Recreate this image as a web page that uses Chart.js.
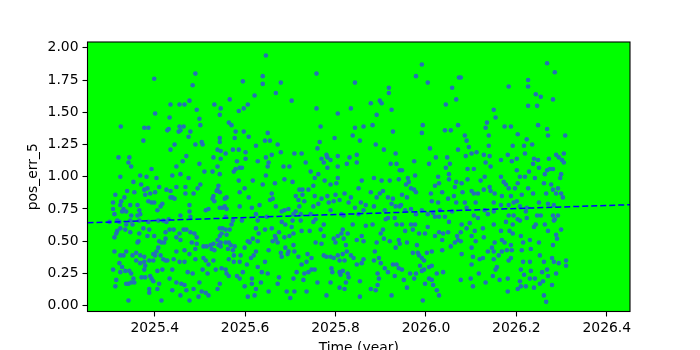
<!DOCTYPE html>
<html>
<head>
<meta charset="utf-8">
<script src="https://cdn.jsdelivr.net/npm/chart.js@4.4.1/dist/chart.umd.min.js"></script>
<style>
  html, body { margin: 0; padding: 0; background: #fff; }
</style>
</head>
<body>
<canvas id="pos-err-chart" width="700" height="350"></canvas>
<script>
// [time (year), pos_err_5]
const observations = [
  [2025.399,1.76],[2025.401,1.49],[2025.325,1.39],[2025.377,1.38],[2025.386,1.38],[2025.375,1.28],[2025.320,1.15],[2025.344,1.15],[2025.342,1.11],[2025.348,1.08],[2025.393,1.06],[2025.324,1.00],[2025.368,1.01],[2025.382,1.00],[2025.404,0.99],[2025.353,0.96],[2025.370,0.94],[2025.377,0.90],[2025.384,0.91],[2025.339,0.89],[2025.410,0.92],[2025.355,0.88],[2025.313,0.86],[2025.401,0.88],[2025.379,0.86],[2025.390,0.87],[2025.333,0.84],[2025.386,0.81],[2025.393,0.80],[2025.399,0.80],[2025.417,0.79],[2025.413,0.77],[2025.308,0.80],[2025.326,0.81],[2025.324,0.78],[2025.346,0.78],[2025.362,0.78],[2025.331,0.75],[2025.308,0.75],[2025.328,0.73],[2025.366,0.74],[2025.337,0.73],[2025.406,0.74],[2025.362,0.70],[2025.368,0.71],[2025.348,0.70],[2025.311,0.71],[2025.317,0.66],[2025.346,0.66],[2025.366,0.66],[2025.386,0.65],[2025.408,0.66],[2025.419,0.66],[2025.300,0.65],[2025.322,0.65],[2025.337,0.63],[2025.351,0.63],[2025.375,0.60],[2025.324,0.60],[2025.335,0.59],[2025.317,0.58],[2025.315,0.56],[2025.311,0.53],[2025.346,0.57],[2025.366,0.56],[2025.384,0.54],[2025.399,0.54],[2025.388,0.59],[2025.410,0.50],[2025.415,0.49],[2025.364,0.50],[2025.362,0.49],[2025.421,0.49],[2025.311,0.42],[2025.324,0.39],[2025.331,0.39],[2025.337,0.42],[2025.351,0.39],[2025.359,0.41],[2025.368,0.39],[2025.408,0.45],[2025.404,0.42],[2025.397,0.40],[2025.401,0.39],[2025.413,0.39],[2025.419,0.36],[2025.377,0.38],[2025.359,0.35],[2025.368,0.33],[2025.377,0.34],[2025.388,0.35],[2025.397,0.35],[2025.379,0.31],[2025.322,0.33],[2025.328,0.30],[2025.308,0.28],[2025.324,0.26],[2025.335,0.27],[2025.344,0.27],[2025.348,0.25],[2025.377,0.28],[2025.406,0.27],[2025.417,0.28],[2025.371,0.22],[2025.379,0.22],[2025.390,0.23],[2025.393,0.21],[2025.397,0.19],[2025.353,0.21],[2025.348,0.18],[2025.342,0.17],[2025.337,0.17],[2025.315,0.20],[2025.313,0.15],[2025.355,0.18],[2025.410,0.17],[2025.388,0.13],[2025.388,0.10],[2025.406,0.13],[2025.342,0.04],[2025.415,0.04],
  [2025.490,1.80],[2025.484,1.71],[2025.435,1.56],[2025.455,1.56],[2025.466,1.56],[2025.477,1.59],[2025.493,1.52],[2025.532,1.56],[2025.546,1.53],[2025.544,1.48],[2025.433,1.46],[2025.499,1.45],[2025.455,1.39],[2025.464,1.39],[2025.428,1.36],[2025.431,1.37],[2025.453,1.35],[2025.457,1.36],[2025.479,1.35],[2025.501,1.40],[2025.475,1.31],[2025.544,1.30],[2025.504,1.27],[2025.506,1.25],[2025.490,1.25],[2025.444,1.25],[2025.435,1.21],[2025.539,1.21],[2025.546,1.20],[2025.544,1.27],[2025.470,1.16],[2025.462,1.12],[2025.530,1.15],[2025.546,1.14],[2025.499,1.10],[2025.448,1.08],[2025.539,1.08],[2025.510,1.04],[2025.528,1.04],[2025.457,1.02],[2025.439,1.01],[2025.475,0.99],[2025.544,1.02],[2025.495,0.91],[2025.501,0.94],[2025.448,0.92],[2025.468,0.92],[2025.541,0.93],[2025.539,0.90],[2025.537,0.89],[2025.544,0.88],[2025.426,0.90],[2025.435,0.89],[2025.468,0.87],[2025.486,0.87],[2025.439,0.84],[2025.435,0.84],[2025.444,0.83],[2025.530,0.85],[2025.528,0.83],[2025.532,0.81],[2025.477,0.78],[2025.519,0.75],[2025.513,0.74],[2025.544,0.76],[2025.550,0.76],[2025.457,0.70],[2025.477,0.73],[2025.479,0.69],[2025.431,0.67],[2025.426,0.65],[2025.433,0.59],[2025.442,0.59],[2025.424,0.57],[2025.448,0.53],[2025.457,0.51],[2025.455,0.56],[2025.464,0.59],[2025.470,0.59],[2025.479,0.57],[2025.488,0.56],[2025.493,0.53],[2025.493,0.48],[2025.482,0.49],[2025.466,0.43],[2025.448,0.42],[2025.477,0.40],[2025.490,0.44],[2025.508,0.46],[2025.515,0.46],[2025.524,0.47],[2025.526,0.44],[2025.530,0.48],[2025.532,0.43],[2025.541,0.47],[2025.546,0.49],[2025.546,0.46],[2025.539,0.51],[2025.544,0.54],[2025.548,0.56],[2025.550,0.60],[2025.544,0.60],[2025.424,0.52],[2025.424,0.35],[2025.428,0.35],[2025.442,0.36],[2025.455,0.34],[2025.466,0.34],[2025.490,0.36],[2025.508,0.37],[2025.513,0.35],[2025.530,0.35],[2025.519,0.32],[2025.439,0.28],[2025.473,0.26],[2025.484,0.25],[2025.506,0.28],[2025.517,0.25],[2025.535,0.28],[2025.548,0.29],[2025.433,0.21],[2025.448,0.18],[2025.459,0.17],[2025.466,0.16],[2025.499,0.18],[2025.544,0.17],[2025.439,0.12],[2025.470,0.12],[2025.486,0.13],[2025.504,0.11],[2025.513,0.10],[2025.519,0.08],[2025.457,0.08],[2025.477,0.04],[2025.497,0.07],[2025.539,0.13],
  [2025.646,1.94],[2025.639,1.78],[2025.639,1.72],[2025.595,1.74],[2025.679,1.73],[2025.668,1.65],[2025.621,1.63],[2025.566,1.60],[2025.606,1.56],[2025.597,1.53],[2025.586,1.51],[2025.564,1.42],[2025.570,1.40],[2025.579,1.35],[2025.597,1.35],[2025.650,1.34],[2025.577,1.30],[2025.608,1.31],[2025.644,1.28],[2025.655,1.28],[2025.624,1.24],[2025.672,1.25],[2025.557,1.18],[2025.573,1.21],[2025.586,1.21],[2025.601,1.19],[2025.679,1.19],[2025.659,1.17],[2025.646,1.15],[2025.582,1.12],[2025.601,1.14],[2025.628,1.12],[2025.652,1.11],[2025.650,1.08],[2025.588,1.07],[2025.579,1.06],[2025.575,1.04],[2025.593,1.07],[2025.646,1.01],[2025.617,0.97],[2025.586,0.97],[2025.639,0.94],[2025.599,0.91],[2025.666,0.95],[2025.588,0.88],[2025.559,0.84],[2025.555,0.83],[2025.659,0.87],[2025.608,0.84],[2025.655,0.82],[2025.661,0.83],[2025.668,0.77],[2025.681,0.73],[2025.555,0.77],[2025.559,0.75],[2025.588,0.77],[2025.615,0.76],[2025.632,0.78],[2025.624,0.71],[2025.557,0.69],[2025.573,0.66],[2025.593,0.66],[2025.628,0.66],[2025.648,0.69],[2025.681,0.65],[2025.570,0.63],[2025.566,0.59],[2025.557,0.59],[2025.659,0.60],[2025.624,0.60],[2025.644,0.59],[2025.630,0.56],[2025.675,0.57],[2025.559,0.55],[2025.557,0.49],[2025.564,0.49],[2025.568,0.47],[2025.562,0.44],[2025.577,0.46],[2025.573,0.43],[2025.599,0.45],[2025.606,0.50],[2025.610,0.49],[2025.617,0.52],[2025.628,0.50],[2025.661,0.50],[2025.668,0.52],[2025.666,0.54],[2025.672,0.49],[2025.679,0.41],[2025.681,0.38],[2025.652,0.43],[2025.624,0.42],[2025.613,0.37],[2025.564,0.36],[2025.575,0.39],[2025.590,0.39],[2025.575,0.34],[2025.588,0.34],[2025.604,0.32],[2025.619,0.39],[2025.644,0.34],[2025.557,0.28],[2025.559,0.25],[2025.564,0.23],[2025.582,0.23],[2025.588,0.21],[2025.595,0.26],[2025.628,0.30],[2025.637,0.26],[2025.650,0.25],[2025.675,0.22],[2025.672,0.17],[2025.615,0.21],[2025.615,0.17],[2025.635,0.18],[2025.599,0.15],[2025.624,0.13],[2025.652,0.11],[2025.606,0.07],[2025.621,0.08],
  [2025.758,1.80],[2025.703,1.59],[2025.758,1.53],[2025.805,1.49],[2025.767,1.39],[2025.798,1.30],[2025.765,1.27],[2025.760,1.22],[2025.709,1.18],[2025.725,1.18],[2025.805,1.16],[2025.780,1.17],[2025.782,1.15],[2025.769,1.14],[2025.734,1.11],[2025.774,1.11],[2025.789,1.13],[2025.685,1.08],[2025.698,1.08],[2025.782,1.07],[2025.805,1.08],[2025.745,1.04],[2025.762,1.02],[2025.754,0.99],[2025.687,0.98],[2025.705,0.96],[2025.805,0.99],[2025.802,0.95],[2025.789,0.94],[2025.776,0.97],[2025.751,0.93],[2025.727,0.90],[2025.720,0.90],[2025.740,0.90],[2025.712,0.85],[2025.727,0.86],[2025.754,0.85],[2025.782,0.85],[2025.800,0.86],[2025.769,0.83],[2025.718,0.82],[2025.731,0.81],[2025.785,0.80],[2025.796,0.81],[2025.809,0.82],[2025.762,0.79],[2025.751,0.77],[2025.720,0.77],[2025.687,0.74],[2025.696,0.75],[2025.712,0.73],[2025.789,0.74],[2025.813,0.71],[2025.707,0.71],[2025.723,0.71],[2025.745,0.71],[2025.756,0.67],[2025.751,0.65],[2025.774,0.63],[2025.705,0.66],[2025.723,0.66],[2025.689,0.63],[2025.703,0.61],[2025.725,0.58],[2025.743,0.58],[2025.767,0.59],[2025.707,0.56],[2025.698,0.54],[2025.687,0.53],[2025.774,0.54],[2025.813,0.56],[2025.805,0.54],[2025.796,0.52],[2025.756,0.49],[2025.769,0.48],[2025.800,0.49],[2025.689,0.45],[2025.696,0.42],[2025.707,0.47],[2025.709,0.42],[2025.694,0.40],[2025.718,0.38],[2025.738,0.40],[2025.747,0.37],[2025.774,0.39],[2025.780,0.38],[2025.789,0.38],[2025.796,0.37],[2025.805,0.39],[2025.809,0.35],[2025.736,0.34],[2025.725,0.32],[2025.714,0.26],[2025.740,0.26],[2025.731,0.25],[2025.747,0.28],[2025.754,0.28],[2025.791,0.29],[2025.793,0.26],[2025.809,0.26],[2025.811,0.24],[2025.707,0.21],[2025.729,0.20],[2025.760,0.18],[2025.789,0.18],[2025.809,0.14],[2025.692,0.11],[2025.709,0.11],[2025.736,0.11],[2025.700,0.06],[2025.780,0.08],
  [2025.843,1.73],[2025.918,1.69],[2025.918,1.65],[2025.898,1.59],[2025.902,1.57],[2025.834,1.53],[2025.878,1.57],[2025.924,1.52],[2025.891,1.48],[2025.882,1.40],[2025.843,1.38],[2025.862,1.39],[2025.927,1.35],[2025.838,1.32],[2025.854,1.28],[2025.889,1.25],[2025.907,1.21],[2025.831,1.15],[2025.847,1.17],[2025.933,1.18],[2025.825,1.10],[2025.847,1.11],[2025.922,1.10],[2025.935,1.10],[2025.942,1.05],[2025.858,0.97],[2025.885,0.99],[2025.902,0.97],[2025.920,0.97],[2025.940,0.98],[2025.851,0.91],[2025.820,0.87],[2025.878,0.88],[2025.905,0.89],[2025.898,0.87],[2025.891,0.84],[2025.916,0.84],[2025.927,0.83],[2025.834,0.84],[2025.829,0.80],[2025.856,0.80],[2025.867,0.78],[2025.885,0.77],[2025.843,0.76],[2025.924,0.79],[2025.933,0.77],[2025.942,0.77],[2025.909,0.74],[2025.911,0.67],[2025.851,0.71],[2025.862,0.74],[2025.818,0.70],[2025.838,0.63],[2025.867,0.62],[2025.882,0.63],[2025.916,0.68],[2025.931,0.68],[2025.935,0.63],[2025.905,0.59],[2025.900,0.56],[2025.891,0.49],[2025.907,0.52],[2025.920,0.50],[2025.940,0.51],[2025.933,0.45],[2025.942,0.48],[2025.816,0.59],[2025.827,0.56],[2025.818,0.52],[2025.847,0.51],[2025.858,0.54],[2025.862,0.50],[2025.823,0.47],[2025.825,0.42],[2025.816,0.40],[2025.834,0.39],[2025.820,0.35],[2025.840,0.37],[2025.847,0.32],[2025.858,0.33],[2025.862,0.36],[2025.887,0.42],[2025.896,0.37],[2025.900,0.33],[2025.885,0.35],[2025.927,0.32],[2025.935,0.32],[2025.940,0.29],[2025.909,0.29],[2025.916,0.26],[2025.931,0.23],[2025.893,0.25],[2025.896,0.21],[2025.816,0.27],[2025.827,0.25],[2025.823,0.18],[2025.829,0.22],[2025.854,0.19],[2025.820,0.13],[2025.878,0.13],[2025.889,0.12],[2025.893,0.16],[2025.854,0.07],[2025.924,0.08],
  [2025.991,1.87],[2025.978,1.78],[2026.004,1.73],[2026.058,1.69],[2026.073,1.77],[2026.067,1.60],[2026.044,1.56],[2025.993,1.40],[2025.991,1.34],[2026.042,1.36],[2026.055,1.36],[2026.071,1.40],[2026.071,1.21],[2026.009,1.22],[2025.974,1.12],[2026.022,1.15],[2026.047,1.15],[2026.007,1.10],[2026.053,1.10],[2026.044,1.07],[2025.947,1.05],[2025.976,1.01],[2026.051,1.02],[2026.027,1.00],[2025.960,0.99],[2025.956,0.94],[2025.962,0.96],[2025.974,0.90],[2025.978,0.88],[2025.967,0.91],[2026.020,0.93],[2026.029,0.95],[2026.051,0.98],[2026.067,0.96],[2026.064,0.92],[2026.036,0.88],[2026.062,0.85],[2025.947,0.86],[2025.958,0.84],[2026.011,0.87],[2026.013,0.81],[2026.027,0.80],[2026.049,0.83],[2026.067,0.80],[2025.945,0.78],[2025.967,0.75],[2025.954,0.74],[2025.978,0.71],[2025.991,0.74],[2026.004,0.71],[2026.016,0.72],[2026.020,0.69],[2026.029,0.69],[2026.042,0.69],[2026.058,0.73],[2026.031,0.74],[2026.051,0.65],[2025.947,0.63],[2025.967,0.63],[2025.976,0.63],[2026.004,0.61],[2025.971,0.59],[2025.954,0.58],[2025.985,0.56],[2025.998,0.56],[2026.029,0.57],[2026.020,0.54],[2026.038,0.56],[2026.049,0.57],[2026.069,0.54],[2026.071,0.51],[2026.064,0.49],[2026.055,0.46],[2026.036,0.51],[2026.036,0.43],[2025.958,0.49],[2025.980,0.47],[2025.982,0.41],[2025.971,0.41],[2025.985,0.39],[2025.991,0.37],[2026.002,0.41],[2026.013,0.42],[2025.996,0.35],[2025.987,0.31],[2025.996,0.28],[2025.991,0.27],[2026.007,0.30],[2026.013,0.31],[2026.007,0.21],[2026.013,0.20],[2025.998,0.17],[2026.024,0.25],[2026.038,0.26],[2025.947,0.28],[2025.965,0.25],[2025.978,0.25],[2025.974,0.21],[2025.951,0.20],[2025.958,0.14],[2026.016,0.16],[2026.024,0.12],[2026.029,0.08],[2025.993,0.04],
  [2026.077,1.77],[2026.183,1.70],[2026.150,1.52],[2026.154,1.46],[2026.135,1.42],[2026.132,1.38],[2026.174,1.39],[2026.188,1.39],[2026.203,1.33],[2026.086,1.32],[2026.090,1.28],[2026.139,1.32],[2026.192,1.24],[2026.139,1.24],[2026.095,1.23],[2026.112,1.19],[2026.101,1.18],[2026.088,1.16],[2026.128,1.17],[2026.141,1.16],[2026.181,1.17],[2026.201,1.14],[2026.166,1.13],[2026.190,1.12],[2026.132,1.11],[2026.143,1.08],[2026.092,1.06],[2026.106,1.06],[2026.166,1.00],[2026.201,1.05],[2026.079,0.95],[2026.092,0.98],[2026.121,0.97],[2026.130,1.00],[2026.172,0.96],[2026.177,0.94],[2026.183,0.91],[2026.197,0.91],[2026.203,0.95],[2026.141,0.92],[2026.143,0.89],[2026.128,0.90],[2026.101,0.89],[2026.106,0.87],[2026.081,0.88],[2026.115,0.87],[2026.152,0.87],[2026.168,0.85],[2026.188,0.85],[2026.201,0.81],[2026.194,0.80],[2026.110,0.80],[2026.086,0.80],[2026.150,0.80],[2026.166,0.78],[2026.183,0.78],[2026.090,0.76],[2026.130,0.74],[2026.150,0.73],[2026.137,0.71],[2026.183,0.70],[2026.106,0.70],[2026.115,0.68],[2026.194,0.70],[2026.203,0.67],[2026.177,0.65],[2026.192,0.63],[2026.097,0.64],[2026.150,0.63],[2026.079,0.63],[2026.090,0.60],[2026.077,0.57],[2026.101,0.54],[2026.108,0.58],[2026.126,0.60],[2026.166,0.58],[2026.185,0.58],[2026.192,0.56],[2026.128,0.53],[2026.152,0.49],[2026.168,0.51],[2026.174,0.49],[2026.188,0.47],[2026.146,0.45],[2026.101,0.45],[2026.110,0.50],[2026.077,0.50],[2026.168,0.42],[2026.179,0.43],[2026.190,0.43],[2026.137,0.42],[2026.150,0.42],[2026.079,0.40],[2026.104,0.38],[2026.119,0.36],[2026.126,0.37],[2026.150,0.36],[2026.161,0.39],[2026.188,0.37],[2026.183,0.35],[2026.101,0.32],[2026.157,0.30],[2026.154,0.28],[2026.117,0.25],[2026.099,0.21],[2026.077,0.20],[2026.148,0.23],[2026.104,0.15],[2026.132,0.18],[2026.163,0.20],[2026.181,0.21],[2026.181,0.11],[2026.203,0.13],
  [2026.268,1.88],[2026.285,1.81],[2026.226,1.75],[2026.226,1.70],[2026.243,1.64],[2026.254,1.62],[2026.281,1.60],[2026.226,1.55],[2026.246,1.55],[2026.248,1.40],[2026.268,1.37],[2026.270,1.32],[2026.308,1.32],[2026.223,1.29],[2026.217,1.24],[2026.235,1.25],[2026.219,1.18],[2026.239,1.14],[2026.248,1.13],[2026.272,1.14],[2026.288,1.17],[2026.294,1.15],[2026.301,1.13],[2026.305,1.18],[2026.305,1.11],[2026.237,1.10],[2026.250,1.07],[2026.268,1.05],[2026.274,1.06],[2026.281,1.06],[2026.228,1.04],[2026.299,1.02],[2026.297,0.99],[2026.263,1.02],[2026.208,1.00],[2026.219,1.00],[2026.241,0.99],[2026.261,0.95],[2026.277,0.94],[2026.281,0.90],[2026.288,0.87],[2026.299,0.87],[2026.303,0.84],[2026.226,0.91],[2026.212,0.86],[2026.237,0.87],[2026.266,0.87],[2026.292,0.91],[2026.250,0.80],[2026.270,0.79],[2026.283,0.78],[2026.208,0.77],[2026.223,0.76],[2026.221,0.73],[2026.246,0.70],[2026.254,0.70],[2026.281,0.70],[2026.285,0.67],[2026.292,0.70],[2026.208,0.66],[2026.223,0.68],[2026.243,0.63],[2026.239,0.61],[2026.263,0.63],[2026.283,0.66],[2026.299,0.59],[2026.270,0.58],[2026.288,0.55],[2026.290,0.52],[2026.210,0.54],[2026.230,0.51],[2026.215,0.49],[2026.212,0.43],[2026.232,0.44],[2026.250,0.49],[2026.281,0.47],[2026.252,0.39],[2026.279,0.37],[2026.215,0.34],[2026.230,0.34],[2026.261,0.34],[2026.283,0.34],[2026.294,0.33],[2026.310,0.35],[2026.310,0.31],[2026.210,0.28],[2026.217,0.24],[2026.232,0.27],[2026.241,0.21],[2026.257,0.26],[2026.268,0.28],[2026.270,0.23],[2026.259,0.19],[2026.252,0.17],[2026.208,0.19],[2026.210,0.15],[2026.221,0.15],[2026.230,0.21],[2026.279,0.16],[2026.288,0.25],[2026.239,0.14],[2026.261,0.08],[2026.266,0.03]
];

// dashed trend line, end points
const trendTime = [2025.2514, 2026.4514];
const trendErr = [0.643, 0.783];

const xTicks = [2025.4, 2025.6, 2025.8, 2026.0, 2026.2, 2026.4];
const yTicks = [0, 0.25, 0.5, 0.75, 1.0, 1.25, 1.5, 1.75, 2.0];
const xLimits = [2025.2514, 2026.4514];
const yLimits = [-0.045, 2.045];

Chart.defaults.font.family = "'DejaVu Sans', sans-serif";
Chart.defaults.font.size = 13.9;
Chart.defaults.color = "#000";

const plotFrame = {
  id: "plotFrame",
  beforeDatasetsDraw(chart) {
    const { ctx, chartArea: a } = chart;
    ctx.save();
    ctx.fillStyle = "#00ff00";
    ctx.fillRect(a.left, a.top, a.right - a.left, a.bottom - a.top);
    ctx.restore();
  },
  afterDraw(chart) {
    const { ctx, chartArea: a } = chart;
    ctx.save();
    ctx.strokeStyle = "#000";
    ctx.lineWidth = 1.1;
    ctx.strokeRect(a.left, a.top, a.right - a.left, a.bottom - a.top);
    ctx.restore();
  },
};

const tickGrid = {
  display: true,
  drawOnChartArea: false,
  drawTicks: true,
  tickLength: 5,
  tickColor: "#000",
  tickWidth: 1.1,
};

new Chart(document.getElementById("pos-err-chart"), {
  type: "scatter",
  data: {
    datasets: [
      {
        type: "line",
        data: trendTime.map((t, i) => ({ x: t, y: trendErr[i] })),
        borderColor: "#0000ff",
        borderWidth: 1.5,
        borderDash: [6, 3],
        pointRadius: 0,
        fill: false,
      },
      {
        data: observations.map(([t, e]) => ({ x: t, y: e })),
        backgroundColor: "#2471b5",
        borderWidth: 0,
        pointRadius: 2.3,
      },
    ],
  },
  options: {
    responsive: false,
    animation: false,
    events: [],
    layout: { padding: { left: 0, right: 70, top: 42, bottom: 0 } },
    plugins: { legend: { display: false }, tooltip: { enabled: false } },
    scales: {
      x: {
        type: "linear",
        min: xLimits[0],
        max: xLimits[1],
        afterBuildTicks: (s) => { s.ticks = xTicks.map((v) => ({ value: v })); },
        afterFit: (s) => { s.height = 38.5; },
        ticks: { padding: 4, maxRotation: 0, callback: (v) => v.toFixed(1) },
        grid: tickGrid,
        border: { display: false },
        title: { display: true, text: "Time (year)", padding: { top: 0, bottom: -6.5 } },
      },
      y: {
        min: yLimits[0],
        max: yLimits[1],
        afterBuildTicks: (s) => { s.ticks = yTicks.map((v) => ({ value: v })); },
        afterFit: (s) => { s.width = 87.5; },
        ticks: { padding: 4, callback: (v) => v.toFixed(2) },
        grid: tickGrid,
        border: { display: false },
        title: { display: true, text: "pos_err_5", padding: { top: 25.5, bottom: 0 } },
      },
    },
  },
  plugins: [plotFrame],
});
</script>
</body>
</html>
